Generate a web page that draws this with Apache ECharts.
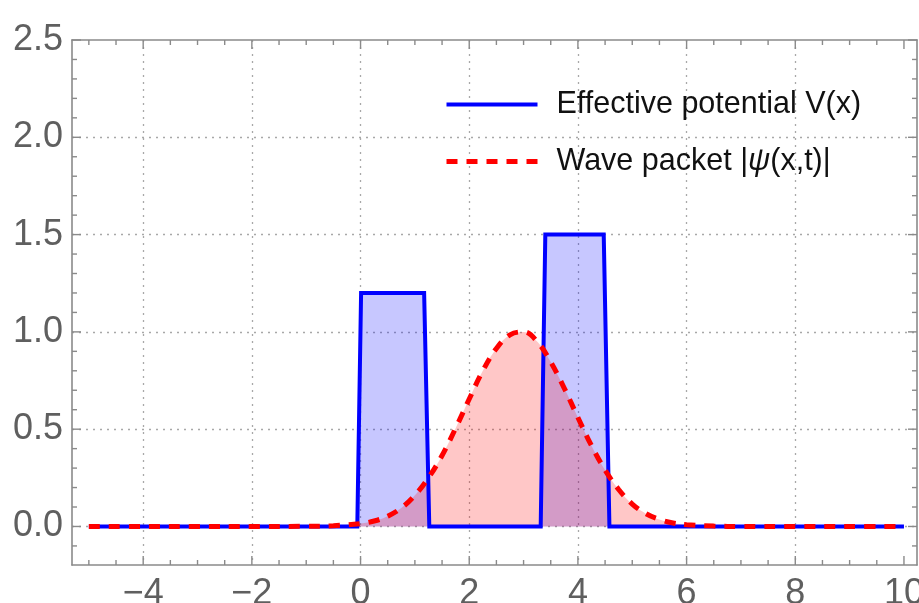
<!DOCTYPE html>
<html>
<head>
<meta charset="utf-8">
<script src="https://cdn.jsdelivr.net/npm/echarts@6/dist/echarts.min.js"></script>
<style>html,body{margin:0;padding:0;background:#fff;}#c{width:919px;height:603px;}</style>
</head>
<body>
<div id="c"></div>
<script>
// ---- data ----
const potentialX = [-5, -0.06, 0.01, 1.17, 1.265, 3.315, 3.40, 4.475, 4.58, 10];
const potentialY = [0, 0, 1.2, 1.2, 0, 0, 1.5, 1.5, 0, 0];

const waveX = [-5, -4, -3, -2, -1, -0.5, 0, 0.25, 0.5, 0.75, 1, 1.25, 1.5, 1.75, 2, 2.25, 2.5, 2.75, 3, 3.25, 3.5, 3.75, 4, 4.25, 4.5, 4.75, 5, 5.25, 5.5, 5.75, 6, 6.5, 7, 8, 9, 10];
const waveY = [0, 0, 0, 0, 0.001, 0.004, 0.015, 0.028, 0.053, 0.095, 0.16, 0.25, 0.365, 0.505, 0.655, 0.8, 0.915, 0.985, 1.0, 0.95, 0.845, 0.71, 0.56, 0.415, 0.29, 0.19, 0.115, 0.066, 0.036, 0.018, 0.009, 0.002, 0, 0, 0, 0];

const xMajorTicks = [-4, -2, 0, 2, 4, 6, 8, 10];
const xMinorTicks = [-5, -4.5, -3.5, -3, -2.5, -1.5, -1, -0.5, 0.5, 1, 1.5, 2.5, 3, 3.5, 4.5, 5, 5.5, 6.5, 7, 7.5, 8.5, 9, 9.5];
const xGridLines = [-4, -2, 0, 2, 4, 6, 8];
const yMajorTicks = [0, 0.5, 1.0, 1.5, 2.0, 2.5];
const yMinorTicks = [-0.1, 0.1, 0.2, 0.3, 0.4, 0.6, 0.7, 0.8, 0.9, 1.1, 1.2, 1.3, 1.4, 1.6, 1.7, 1.8, 1.9, 2.1, 2.2, 2.3, 2.4];
const yGridLines = [0, 0.5, 1.0, 1.5, 2.0];

const nameV = 'Effective potential V(x)';
const nameW = 'Wave packet |ψ(x,t)|';

// ---- build ----
const potData = potentialX.map((x, i) => [x, potentialY[i]]);
const waveData = waveX.map((x, i) => [x, waveY[i]]);

const X_MIN = -5.31, X_MAX = 10.24, Y_MIN = -0.198, Y_MAX = 2.5;
const FONT = '"Liberation Sans", Arial, sans-serif';
const frameColor = '#8a8a8a';
const labelColor = '#5f5f5f';
const gridStyle = {color: '#a8a8a8', width: 1.3, type: [2, 5]};
const frame = {color: frameColor, width: 1.6};
const MAJ_LEN = 9, MIN_LEN = 5;

// frame ticks: [value, kind]  kind 0 = x major, 1 = x minor, 2 = y major, 3 = y minor
const tickRows = []
  .concat(xMajorTicks.map(v => [v, 0]))
  .concat(xMinorTicks.map(v => [v, 1]))
  .concat(yMajorTicks.map(v => [v, 2]))
  .concat(yMinorTicks.map(v => [v, 3]));

function minus(v) { return v < 0 ? '\u2212' + Math.abs(v) : String(v); }

function axis(o) {
  return {
    type: 'value', position: o.pos, min: o.min, max: o.max,
    axisLine: {show: !!o.line, onZero: true, onZeroAxisIndex: o.zero, lineStyle: frame},
    axisTick: o.tick || {show: false},
    axisLabel: o.label || {show: false},
    splitLine: o.split || {show: false}
  };
}

function renderTick(params, api) {
  const v = api.value(0), kind = api.value(1);
  const len = (kind === 0 || kind === 2) ? MAJ_LEN : MIN_LEN;
  const st = {stroke: frameColor, lineWidth: 1.4};
  let a, b;
  if (kind < 2) {
    a = api.coord([v, Y_MIN]); b = api.coord([v, Y_MAX]);
    return {type: 'group', children: [
      {type: 'line', shape: {x1: a[0], y1: a[1], x2: a[0], y2: a[1] - len}, style: st},
      {type: 'line', shape: {x1: b[0], y1: b[1], x2: b[0], y2: b[1] + len}, style: st}
    ]};
  }
  a = api.coord([X_MIN, v]); b = api.coord([X_MAX, v]);
  return {type: 'group', children: [
    {type: 'line', shape: {x1: a[0], y1: a[1], x2: a[0] + len, y2: a[1]}, style: st},
    {type: 'line', shape: {x1: b[0], y1: b[1], x2: b[0] - len, y2: b[1]}, style: st}
  ]};
}

const chart = echarts.init(document.getElementById('c'), null, {renderer: 'canvas'});
chart.setOption({
  animation: false,
  backgroundColor: '#fff',
  grid: {left: 72, right: 2, top: 40, bottom: 38, containLabel: false, outerBoundsMode: 'none'},
  xAxis: [
    axis({pos: 'bottom', min: X_MIN, max: X_MAX, zero: 2, line: true,
      label: {show: true, customValues: xMajorTicks.slice(), formatter: minus, margin: 11, color: labelColor, fontSize: 36, fontFamily: FONT}}),
    axis({pos: 'top', min: X_MIN, max: X_MAX, zero: 2, line: true}),
    axis({pos: 'bottom', min: X_MIN, max: X_MAX, zero: 2,
      tick: {show: false, customValues: xGridLines.slice()}, split: {show: true, lineStyle: gridStyle}}),
    {type: 'value', position: 'bottom', min: 1, max: 2, show: false}
  ],
  yAxis: [
    axis({pos: 'left', min: Y_MIN, max: Y_MAX, zero: 3, line: true,
      label: {show: true, customValues: yMajorTicks.slice(), formatter: v => v.toFixed(1), margin: 9, color: labelColor, fontSize: 36, fontFamily: FONT}}),
    axis({pos: 'right', min: Y_MIN, max: Y_MAX, zero: 3, line: true}),
    {type: 'value', position: 'left', min: 1, max: 2, show: false},
    axis({pos: 'left', min: Y_MIN, max: Y_MAX, zero: 3,
      tick: {show: false, customValues: yGridLines.slice()}, split: {show: true, lineStyle: gridStyle}})
  ],
  legend: {
    orient: 'vertical', left: 444, top: 89, padding: 0, itemWidth: 91, itemHeight: 14, itemGap: 26,
    selectedMode: false,
    itemStyle: {opacity: 0, borderWidth: 0},
    data: [
      {name: nameV, lineStyle: {color: '#0000ff', width: 4, type: 'solid'}},
      {name: nameW, lineStyle: {color: '#ff0000', width: 5, type: [11, 9], cap: 'butt'}}
    ],
    textStyle: {fontSize: 30.5, color: '#111', fontFamily: FONT, padding: [0, 0, 0, 14],
      rich: {
        n: {fontSize: 30.5, color: '#111', fontFamily: FONT},
        i: {fontSize: 30.5, color: '#111', fontFamily: FONT, fontStyle: 'italic'}
      }},
    formatter: function (name) {
      if (name === nameW) return '{n|Wave packet |}{i|ψ}{n|(x,t)|}';
      return '{n|' + name + '}';
    }
  },
  series: [
    {name: 'frame ticks', type: 'custom', xAxisIndex: 0, yAxisIndex: 0, data: tickRows,
      renderItem: renderTick, silent: true, clip: false, z: 1},
    {name: 'V area', type: 'line', xAxisIndex: 0, yAxisIndex: 0, data: potData, symbol: 'none', silent: true,
      lineStyle: {width: 0, opacity: 0}, areaStyle: {color: '#0000ff', opacity: 0.22, origin: 0}, z: 2},
    {name: 'W area', type: 'line', xAxisIndex: 0, yAxisIndex: 0, data: waveData, symbol: 'none', smooth: 0.4, silent: true,
      lineStyle: {width: 0, opacity: 0}, areaStyle: {color: '#ff0000', opacity: 0.22, origin: 0}, z: 3},
    {name: nameV, type: 'line', xAxisIndex: 0, yAxisIndex: 0, data: potData, symbol: 'none', color: '#0000ff',
      lineStyle: {color: '#0000ff', width: 4, join: 'miter'}, z: 4},
    {name: nameW, type: 'line', xAxisIndex: 0, yAxisIndex: 0, data: waveData, symbol: 'none', smooth: 0.4, color: '#ff0000',
      lineStyle: {color: '#ff0000', width: 5, type: [11, 9], cap: 'butt'}, z: 5}
  ]
});
</script>
</body>
</html>
